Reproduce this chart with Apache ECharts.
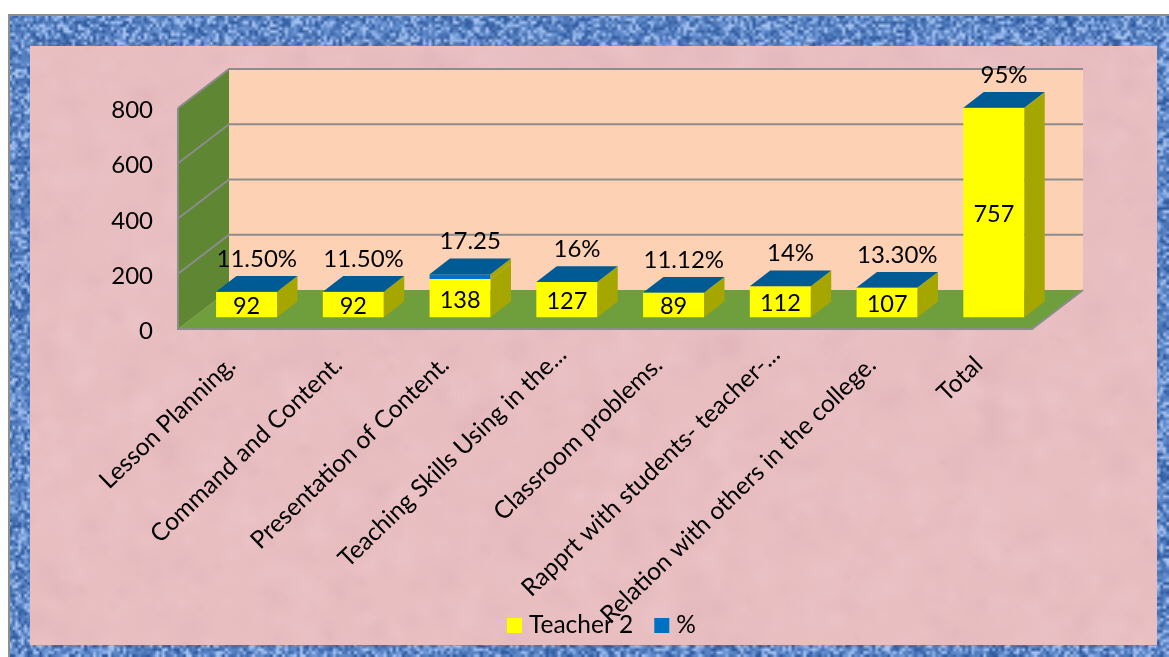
<!DOCTYPE html>
<html>
<head>
<meta charset="utf-8">
<style>html,body{margin:0;padding:0;background:#fff}#c{width:1169px;height:657px}</style>
<script src="https://cdn.jsdelivr.net/npm/echarts@6/dist/echarts.min.js"></script>
</head>
<body>
<div id="c"></div>
<script>
const categories = ['Lesson Planning.','Command and Content.','Presentation of Content.','Teaching Skills Using in the...','Classroom problems.','Rapprt with students- teacher-...','Relation with others in the college.','Total'];
const teacher2 = [92,92,138,127,89,112,107,757];
const percent = [0.115,0.115,17.25,0.16,0.1112,0.14,0.133,0.95];
const percentLabels = ['11.50%','11.50%','17.25','16%','11.12%','14%','13.30%','95%'];
const yTicks = [0,200,400,600,800];

const FONT = 'Lato';
const WALL_DX = 51, WALL_DY = -39;
const BAR_OFF_X = 15.2, BAR_OFF_Y = -11.8;
const BAR_DX = 20.4, BAR_DY = -15.7;
const BAR_W = 61;

function makeBackground(){
  const W=1169,H=657;
  const c=document.createElement('canvas');c.width=W;c.height=H;
  const g=c.getContext('2d');
  let s=12345;
  const rnd=()=>{s=(s*1664525+1013904223)%4294967296;return s/4294967296;};
  g.fillStyle='#ffffff';g.fillRect(0,0,W,H);
  g.fillStyle='#8f8f88';g.fillRect(8,14,W-8,H-14);
  const t=document.createElement('canvas');const tw=Math.ceil(W/3),th=Math.ceil(H/3);t.width=tw;t.height=th;
  const tg=t.getContext('2d');
  const pal=['#2f5a9e','#3f6bae','#5580c0','#6f97d6','#8db0e6','#a5c2f0','#4a74b4','#5f88c8'];
  for(let y=0;y<th;y++){for(let x=0;x<tw;x++){
    tg.fillStyle=pal[Math.floor(rnd()*pal.length)];
    tg.fillRect(x,y,1,1);
  }}
  g.save();g.beginPath();g.rect(10,16,W-10,H-16);g.clip();
  g.imageSmoothingEnabled=true;g.drawImage(t,0,0,W,H);g.restore();
  g.save();g.beginPath();g.rect(30,46,1127,599);g.clip();
  g.fillStyle='#e8bec1';g.fillRect(30,46,1127,599);
  for(let i=0;i<2600;i++){
    const x=30+rnd()*1127,y=46+rnd()*599,r=4+rnd()*20;
    const light=rnd()>0.5;
    const col=light?'244,208,210':'214,165,172';
    const a=0.05+rnd()*0.12;
    const gr=g.createRadialGradient(x,y,0,x,y,r);
    gr.addColorStop(0,'rgba('+col+','+a+')');gr.addColorStop(1,'rgba('+col+',0)');
    g.fillStyle=gr;g.fillRect(x-r,y-r,2*r,2*r);
  }
  g.restore();
  return c;
}

function poly(pts,fill){return {type:'polygon',shape:{points:pts},style:{fill:fill}};}

function renderWall(params,api){
  const tick=api.value(1);
  const cs=params.coordSys;
  const yp=api.coord([0,tick])[1];
  const xl=cs.x,xr=cs.x+cs.width;
  const kids=[];
  if(params.dataIndex===0){
    const top=cs.y,bot=cs.y+cs.height;
    kids.push(poly([[xl+WALL_DX,top+WALL_DY],[xr+WALL_DX,top+WALL_DY],[xr+WALL_DX,bot+WALL_DY],[xl+WALL_DX,bot+WALL_DY]],'#fdd2b4'));
    kids.push(poly([[xl,top],[xl+WALL_DX,top+WALL_DY],[xl+WALL_DX,bot+WALL_DY],[xl,bot]],'#5f8733'));
    kids.push(poly([[xl,bot],[xl+WALL_DX,bot+WALL_DY],[xr+WALL_DX,bot+WALL_DY],[xr,bot]],'#6f9e3d'));
    kids.push({type:'polyline',shape:{points:[[xl,top],[xl,bot],[xr,bot],[xr+WALL_DX,bot+WALL_DY]]},style:{fill:null,stroke:'#8c8c8c',lineWidth:2}});
  }
  if(tick>0){
    kids.push({type:'polyline',shape:{points:[[xl,yp],[xl+WALL_DX,yp+WALL_DY],[xr+WALL_DX,yp+WALL_DY]]},style:{fill:null,stroke:'#8c8c8c',lineWidth:2}});
  }
  return {type:'group',children:kids};
}

function box(api,idx,from,to,front,side,top){
  const p0=api.coord([idx,from]),p1=api.coord([idx,to]);
  const xl=p0[0]+BAR_OFF_X-BAR_W/2,xr=xl+BAR_W;
  const yb=p0[1]+BAR_OFF_Y,yt=p1[1]+BAR_OFF_Y;
  const kids=[
    poly([[xl,yt],[xr,yt],[xr,yb],[xl,yb]],front),
    poly([[xr,yt],[xr+BAR_DX,yt+BAR_DY],[xr+BAR_DX,yb+BAR_DY],[xr,yb]],side)
  ];
  if(top) kids.push(poly([[xl,yt],[xl+BAR_DX,yt+BAR_DY],[xr+BAR_DX,yt+BAR_DY],[xr,yt]],top));
  return {kids,xl,xr,yb,yt};
}

function renderTeacher(params,api){
  const idx=api.value(0),v=api.value(1);
  const b=box(api,idx,0,v,'#ffff00','#a6a600');
  b.kids.push({type:'text',style:{text:String(v),x:(b.xl+b.xr)/2,y:(b.yt+b.yb)/2+2,align:'center',verticalAlign:'middle',font:'23.5px '+FONT,fill:'#000'}});
  return {type:'group',children:b.kids};
}

function renderPercent(params,api){
  const idx=api.value(0),v=api.value(1);
  const base=teacher2[idx];
  const b=box(api,idx,base,base+v,'#0070c0','#a6a600','#005a94');
  b.kids.push({type:'text',style:{text:percentLabels[idx],x:(b.xl+b.xr)/2+BAR_DX/2,y:b.yt+BAR_DY-17,align:'center',verticalAlign:'middle',font:'24px '+FONT,fill:'#000'}});
  return {type:'group',children:b.kids};
}

const chart=echarts.init(document.getElementById('c'),null,{renderer:'canvas',width:1169,height:657});
chart.setOption({
  animation:false,
  backgroundColor:{image:makeBackground(),repeat:'no-repeat'},
  grid:{left:178,top:108,width:854,height:221,containLabel:false},
  legend:{
    data:['Teacher 2','%'],left:502,top:608,itemWidth:15,itemHeight:15,itemGap:21,icon:'rect',
    textStyle:{fontFamily:FONT,fontSize:24.5,color:'#000',padding:[0,0,0,2]}
  },
  xAxis:{type:'category',
    data:categories.map(c=>c.endsWith('...')?{value:c,textStyle:{padding:[0,-15,0,0]}}:c),
    axisLine:{show:false},axisTick:{show:false},splitLine:{show:false},
    axisLabel:{interval:0,rotate:44,hideOverlap:false,margin:32,fontFamily:FONT,fontSize:24.5,color:'#000'}},
  yAxis:{type:'value',min:0,max:800,interval:200,
    axisLine:{show:false},axisTick:{show:false},splitLine:{show:false},
    axisLabel:{margin:25,formatter:'{t|{value}}',rich:{t:{fontFamily:FONT,fontSize:24,color:'#000',padding:[5,0,0,0]}}}},
  series:[
    {type:'custom',name:'walls',silent:true,clip:false,renderItem:renderWall,encode:{x:0,y:1},data:yTicks.map(t=>[0,t])},
    {type:'custom',name:'Teacher 2',clip:false,itemStyle:{color:'#ffff00'},renderItem:renderTeacher,encode:{x:0,y:1},data:teacher2.map((v,i)=>[i,v])},
    {type:'custom',name:'%',clip:false,itemStyle:{color:'#0070c0'},renderItem:renderPercent,encode:{x:0,y:1},data:percent.map((v,i)=>[i,v])}
  ]
});
</script>
</body>
</html>
